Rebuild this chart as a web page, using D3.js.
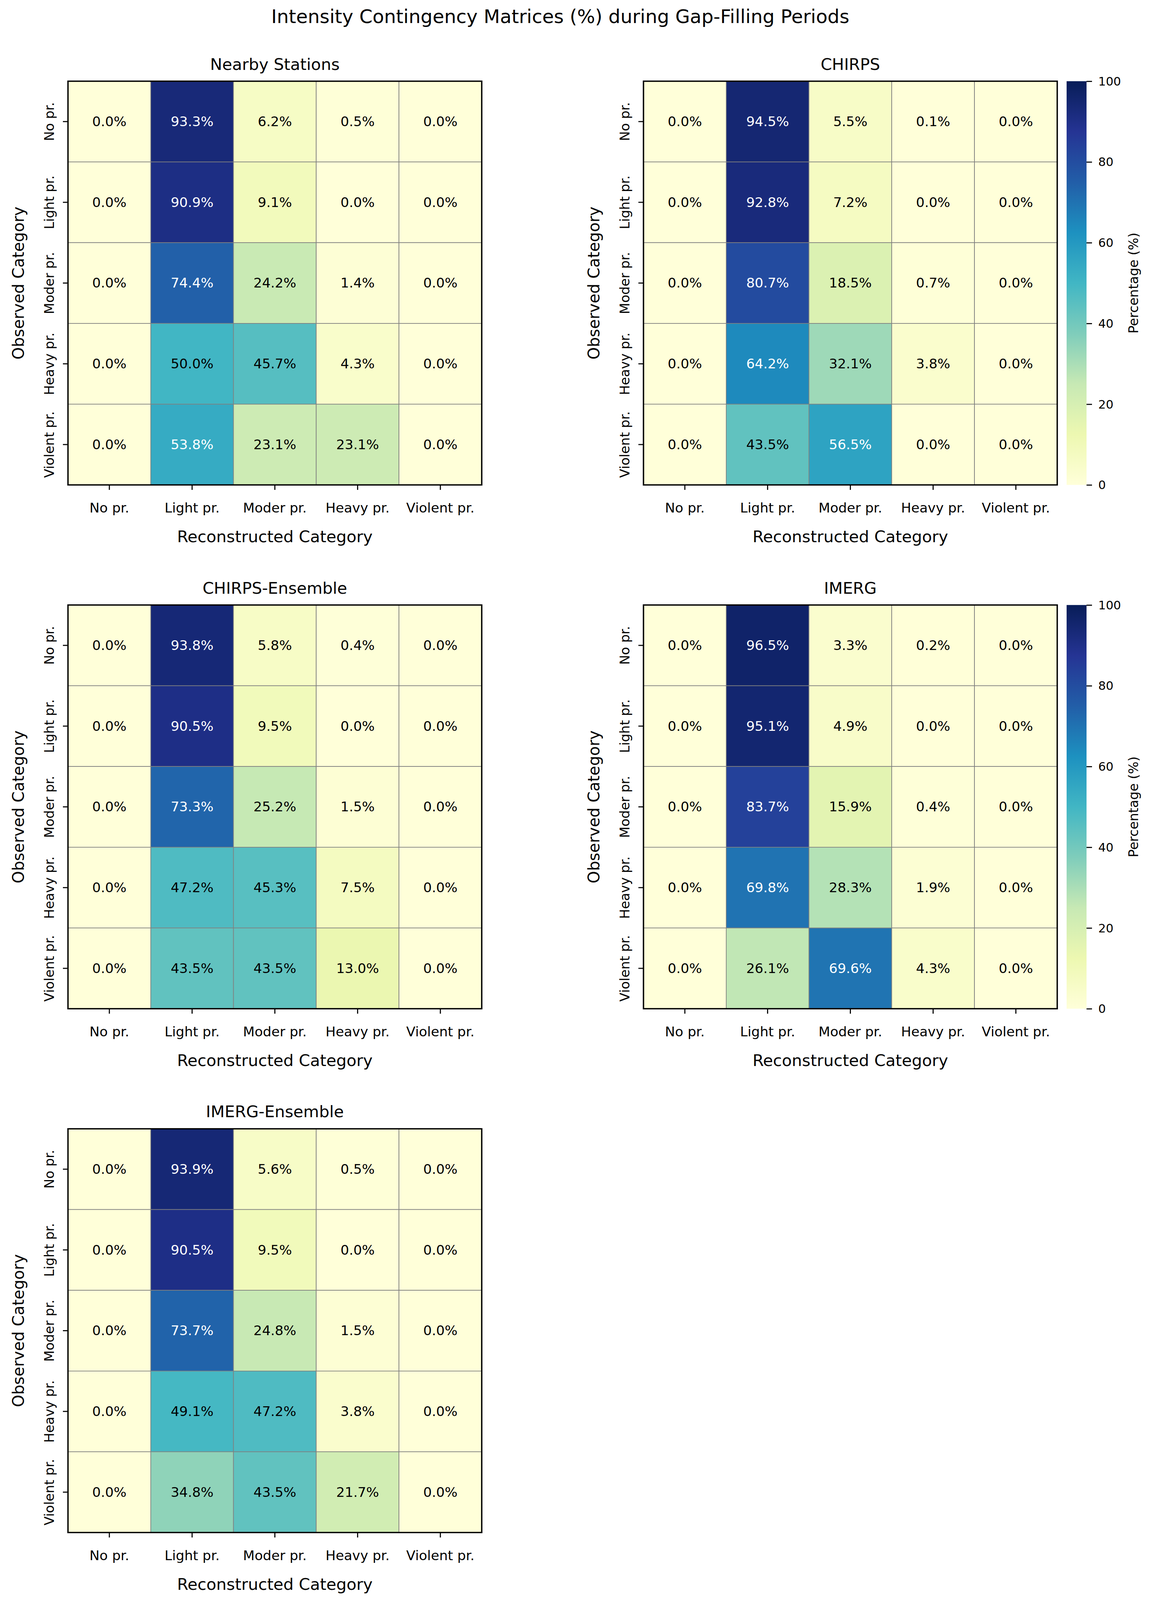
<!DOCTYPE html>
<html>
<head>
<meta charset="utf-8">
<title>Intensity Contingency Matrices</title>
<style>
  html, body { margin: 0; padding: 0; background: #fff; overflow: hidden; }
  svg { display: block; }
  text { font-family: "DejaVu Sans", sans-serif; }
</style>
</head>
<body>
<script src="https://cdnjs.cloudflare.com/ajax/libs/d3/7.8.5/d3.min.js"></script>
<script>
// categories (rows = observed, cols = reconstructed)
var categories = ["No pr.", "Light pr.", "Moder pr.", "Heavy pr.", "Violent pr."];
var cbarTicks = [0, 20, 40, 60, 80, 100];

var nearby = [
  [0.0, 93.3,  6.2,  0.5, 0.0],
  [0.0, 90.9,  9.1,  0.0, 0.0],
  [0.0, 74.4, 24.2,  1.4, 0.0],
  [0.0, 50.0, 45.7,  4.3, 0.0],
  [0.0, 53.8, 23.1, 23.1, 0.0]
];
var chirps = [
  [0.0, 94.5,  5.5, 0.1, 0.0],
  [0.0, 92.8,  7.2, 0.0, 0.0],
  [0.0, 80.7, 18.5, 0.7, 0.0],
  [0.0, 64.2, 32.1, 3.8, 0.0],
  [0.0, 43.5, 56.5, 0.0, 0.0]
];
var chirpsEns = [
  [0.0, 93.8,  5.8,  0.4, 0.0],
  [0.0, 90.5,  9.5,  0.0, 0.0],
  [0.0, 73.3, 25.2,  1.5, 0.0],
  [0.0, 47.2, 45.3,  7.5, 0.0],
  [0.0, 43.5, 43.5, 13.0, 0.0]
];
var imerg = [
  [0.0, 96.5,  3.3, 0.2, 0.0],
  [0.0, 95.1,  4.9, 0.0, 0.0],
  [0.0, 83.7, 15.9, 0.4, 0.0],
  [0.0, 69.8, 28.3, 1.9, 0.0],
  [0.0, 26.1, 69.6, 4.3, 0.0]
];
var imergEns = [
  [0.0, 93.9,  5.6,  0.5, 0.0],
  [0.0, 90.5,  9.5,  0.0, 0.0],
  [0.0, 73.7, 24.8,  1.5, 0.0],
  [0.0, 49.1, 47.2,  3.8, 0.0],
  [0.0, 34.8, 43.5, 21.7, 0.0]
];

var panelNames = ["Nearby Stations", "CHIRPS", "CHIRPS-Ensemble", "IMERG", "IMERG-Ensemble"];
var panelData = [nearby, chirps, chirpsEns, imerg, imergEns];

// YlGnBu (matplotlib segment colours)
var ylgnbu = ["#ffffd9", "#edf8b1", "#c7e9b4", "#7fcdbb", "#41b6c4",
              "#1d91c0", "#225ea8", "#253494", "#081d58"];

var W = 2946, H = 4197;
var size = 1059;
var lefts = [174, 1647];
var tops = [213, 1587, 2961];

var color = d3.scaleLinear()
  .domain(ylgnbu.map(function(c, i) { return i * 100 / (ylgnbu.length - 1); }))
  .range(ylgnbu)
  .clamp(true);

// the visible area can be a bit shorter than the window, so fit the drawing to it
var vw = window.innerWidth || W, vh = window.innerHeight || H;
var svg = d3.select("body").append("svg")
  .attr("width", vw)
  .attr("height", vh)
  .attr("viewBox", "0 0 " + W + " " + H)
  .attr("preserveAspectRatio", "none");

svg.append("rect").attr("width", W).attr("height", H).attr("fill", "#fff");

// gradient for colorbar
var grad = svg.append("defs").append("linearGradient")
  .attr("id", "cbgrad")
  .attr("x1", 0).attr("y1", 1).attr("x2", 0).attr("y2", 0);
grad.selectAll("stop").data(ylgnbu).enter().append("stop")
  .attr("offset", function(d, i) { return (i / (ylgnbu.length - 1) * 100) + "%"; })
  .attr("stop-color", function(d) { return d; });

svg.append("text")
  .attr("x", 1434).attr("y", 60)
  .attr("text-anchor", "middle")
  .attr("font-size", 48.3)
  .text("Intensity Contingency Matrices (%) during Gap-Filling Periods");

panelData.forEach(function(mat, k) {
  var left = lefts[k % 2], top = tops[Math.floor(k / 2)];
  var x = d3.scaleBand().domain(categories).range([left, left + size]);
  var y = d3.scaleBand().domain(categories).range([top, top + size]);
  var g = svg.append("g");

  var cells = [];
  mat.forEach(function(row, i) {
    row.forEach(function(v, j) { cells.push({ obs: categories[i], rec: categories[j], v: v }); });
  });

  g.selectAll("rect.cell").data(cells).enter().append("rect")
    .attr("class", "cell")
    .attr("x", function(d) { return x(d.rec); })
    .attr("y", function(d) { return y(d.obs); })
    .attr("width", x.bandwidth())
    .attr("height", y.bandwidth())
    .attr("fill", function(d) { return color(d.v); })
    .attr("stroke", "#808080")
    .attr("stroke-width", 1.7);

  g.selectAll("text.annot").data(cells).enter().append("text")
    .attr("class", "annot")
    .attr("x", function(d) { return x(d.rec) + x.bandwidth() / 2; })
    .attr("y", function(d) { return y(d.obs) + y.bandwidth() / 2; })
    .attr("text-anchor", "middle")
    .attr("dominant-baseline", "central")
    .attr("font-size", 34.5)
    .attr("fill", function(d) { return d.v > 50 ? "#fff" : "#000"; })
    .text(function(d) { return d.v.toFixed(1) + "%"; });

  // frame
  g.append("rect")
    .attr("x", left).attr("y", top)
    .attr("width", size).attr("height", size)
    .attr("fill", "none")
    .attr("stroke", "#000")
    .attr("stroke-width", 3.5);

  // x axis
  var xa = g.append("g")
    .attr("transform", "translate(0," + (top + size) + ")")
    .call(d3.axisBottom(x).tickSize(13).tickSizeOuter(0));
  xa.select(".domain").remove();
  xa.selectAll("line").attr("stroke", "#000").attr("stroke-width", 2.8);
  xa.selectAll("text")
    .attr("y", 72).attr("dy", null)
    .attr("fill", "#000")
    .attr("font-size", 34.5)
    .attr("font-family", "DejaVu Sans");

  // y axis
  var ya = g.append("g")
    .attr("transform", "translate(" + left + ",0)")
    .call(d3.axisLeft(y).tickSize(13).tickSizeOuter(0));
  ya.select(".domain").remove();
  ya.selectAll("line").attr("stroke", "#000").attr("stroke-width", 2.8);
  ya.selectAll("text")
    .attr("x", null).attr("dy", null)
    .attr("text-anchor", "middle")
    .attr("transform", "translate(-36,0) rotate(-90)")
    .attr("fill", "#000")
    .attr("font-size", 34.5)
    .attr("font-family", "DejaVu Sans");

  g.append("text")
    .attr("x", left + size / 2).attr("y", top - 30)
    .attr("text-anchor", "middle")
    .attr("font-size", 41.4)
    .text(panelNames[k]);

  g.append("text")
    .attr("x", left + size / 2).attr("y", Math.min(top + size + 150, H - 26))
    .attr("text-anchor", "middle")
    .attr("font-size", 41.4)
    .text("Reconstructed Category");

  g.append("text")
    .attr("transform", "translate(" + (left - 113) + "," + (top + size / 2) + ") rotate(-90)")
    .attr("text-anchor", "middle")
    .attr("font-size", 41.4)
    .text("Observed Category");

  // colorbar on right-column panels
  if (k % 2 === 1) {
    var cbx = 2730, cbw = 51;
    g.append("rect")
      .attr("x", cbx).attr("y", top)
      .attr("width", cbw).attr("height", size)
      .attr("fill", "url(#cbgrad)");
    var cs = d3.scaleLinear().domain([0, 100]).range([top + size, top]);
    var ca = g.append("g")
      .attr("transform", "translate(" + (cbx + cbw) + ",0)")
      .call(d3.axisRight(cs).tickValues(cbarTicks).tickSize(14).tickPadding(16).tickSizeOuter(0));
    ca.select(".domain").remove();
    ca.selectAll("line").attr("stroke", "#000").attr("stroke-width", 2.8);
    ca.selectAll("text")
      .attr("dy", "0.35em")
      .attr("fill", "#000")
      .attr("font-size", 30.5)
      .attr("font-family", "DejaVu Sans");
    g.append("text")
      .attr("transform", "translate(2913," + (top + size / 2) + ") rotate(-90)")
      .attr("text-anchor", "middle")
      .attr("font-size", 34.5)
      .text("Percentage (%)");
  }
});
</script>
</body>
</html>
